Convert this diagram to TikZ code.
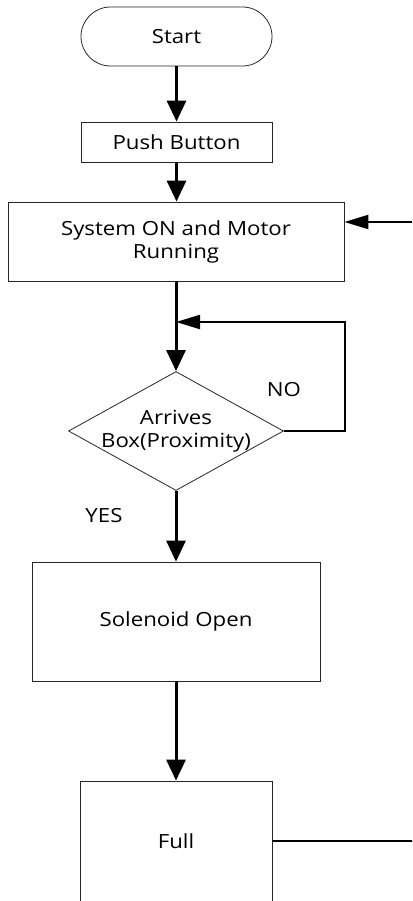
\documentclass[tikz,border=0pt]{standalone}
\usepackage{fontspec}
\setmainfont{Open Sans}[FakeStretch=1.14]
\usetikzlibrary{shapes.misc,shapes.geometric,arrows.meta}
\begin{document}
\begin{tikzpicture}[x=1pt,y=1pt,
  font=\fontsize{19.5}{23}\selectfont,
  box/.style={draw=black!85, line width=0.8pt, inner sep=0pt, align=center},
  mainarrow/.style={line width=3pt, -{Triangle[length=21pt,width=19pt]}},
  thinarrow/.style={line width=2.2pt, -{Triangle[length=24pt,width=14pt]}},
  plain/.style={line width=2.2pt}]
\clip (0,0) rectangle (412,-901);
\node[box, rounded rectangle, minimum width=191pt, minimum height=59pt] (start) at (176.5,-36.5) {Start};
\node[box, rectangle, minimum width=191pt, minimum height=40pt] (push) at (176.5,-142) {Push Button};
\node[box, rectangle, minimum width=336pt, minimum height=79pt] (sys) at (176,-241.5) {System ON and Motor\\Running};
\node[box, diamond, minimum width=215pt, minimum height=119pt,
  label={[align=center]center:Arrives\\Box(Proximity)}] (dec) at (176,-431) {};
\node[box, rectangle, minimum width=288pt, minimum height=119pt] (sol) at (176,-621.5) {Solenoid Open};
\node[box, rectangle, minimum width=192pt, minimum height=120pt] (full) at (176,-841) {Full};
\node (no) at (284,-390) {NO};
\node (yes) at (104,-516) {YES};
\coordinate (in) at (413,-222);
\coordinate (j) at (176,-322);
\coordinate (out) at (413,-841);
\draw[mainarrow] (start.south) -- (start.south |- push.north);
\draw[mainarrow] (push.south) -- (push.south |- sys.north);
\draw[thinarrow] (in) -- (in -| sys.east);
\draw[mainarrow] (sys.south) -- (dec.north);
\draw[thinarrow] (dec.east) -- ++(61,0) |- (j);
\draw[mainarrow] (dec.south) -- (sol.north);
\draw[mainarrow] (sol.south) -- (full.north);
\draw[plain] (full.east) -- (out);
\end{tikzpicture}
\end{document}
